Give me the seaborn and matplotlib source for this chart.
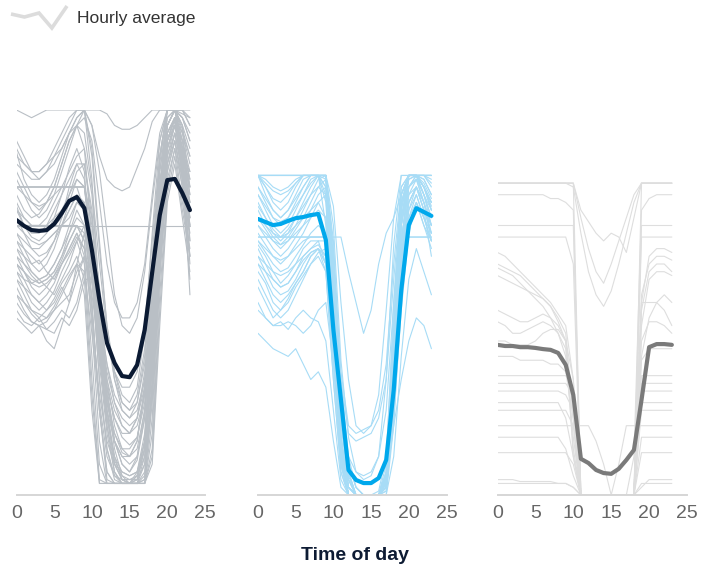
import numpy as np
import pandas as pd
import matplotlib
matplotlib.use("Agg")
import matplotlib.pyplot as plt
from matplotlib.lines import Line2D
from matplotlib.legend_handler import HandlerBase
import seaborn as sns

# ---------------- data ----------------
hours = list(range(24))
tick_values = [0, 5, 10, 15, 20, 25]
x_label = "Time of day"
legend_label = "Hourly average"

avg_panel1 = [71.4, 69.9, 68.8, 68.6, 68.8, 70.4, 73.2, 76.4, 77.4, 74.5, 63.6, 50.6,
              39.5, 34.3, 30.9, 30.6, 33.8, 42.9, 57.9, 72.7, 81.8, 82.1, 78.4, 74.0]
avg_panel2 = [71.7, 70.9, 70.1, 70.4, 71.2, 71.9, 72.2, 72.7, 73.0, 66.2, 42.9, 24.7,
              6.5, 3.9, 3.1, 3.1, 4.4, 9.1, 27.3, 53.2, 70.1, 74.5, 73.5, 72.5]
avg_panel3 = [39.0, 38.7, 38.7, 38.4, 38.4, 38.2, 37.9, 37.7, 36.9, 33.8, 26.0, 9.4,
              8.3, 6.5, 5.7, 5.5, 6.8, 9.1, 11.7, 24.7, 38.4, 39.2, 39.2, 39.0]

lines_panel1 = [
    [100, 99, 98, 99, 100, 100, 100, 100, 100, 100, 100, 100, 99, 96, 95, 95, 96, 98, 100, 100, 100, 100, 100, 100],
    [89, 82, 78, 76, 78, 82, 88, 94, 98, 100, 96, 88, 82, 80, 79, 80, 85, 90, 97, 100, 100, 100, 99, 98],
    [80, 80, 80, 80, 80, 80, 80, 80, 80, 80, 62, 36, 18, 8, 4, 3, 6, 16, 44, 80, 96, 100, 96, 90],
    [80, 80, 80, 80, 80, 80, 80, 80, 80, 74, 50, 22, 6, 3, 3, 3, 3, 8, 34, 72, 92, 98, 94, 86],
    [78, 74, 72, 73, 76, 80, 86, 92, 96, 90, 66, 40, 24, 16, 11, 10, 14, 28, 56, 84, 98, 100, 100, 98],
    [75, 70, 67, 66, 68, 72, 78, 85, 90, 84, 58, 30, 12, 5, 3, 3, 4, 12, 38, 70, 90, 97, 92, 84],
    [70, 70, 70, 70, 70, 70, 70, 70, 70, 70, 70, 70, 70, 70, 70, 70, 70, 70, 70, 70, 70, 70, 70, 70],
    [72, 68, 64, 62, 63, 66, 72, 80, 86, 82, 62, 40, 24, 14, 8, 6, 10, 22, 50, 80, 96, 100, 92, 82],
    [68, 64, 60, 58, 60, 64, 70, 76, 82, 80, 64, 42, 26, 16, 12, 12, 15, 26, 50, 78, 94, 98, 90, 80],
    [66, 62, 58, 56, 57, 60, 64, 70, 76, 74, 58, 34, 16, 6, 3, 3, 3, 10, 36, 70, 90, 96, 86, 76],
    [64, 60, 57, 55, 56, 58, 62, 68, 74, 70, 50, 22, 4, 3, 3, 3, 3, 4, 26, 64, 88, 94, 84, 72],
    [62, 58, 54, 52, 54, 57, 61, 66, 70, 66, 44, 14, 3, 3, 3, 3, 3, 3, 20, 60, 86, 92, 82, 70],
    [60, 56, 52, 50, 52, 55, 60, 64, 68, 62, 36, 8, 3, 3, 3, 3, 3, 3, 16, 56, 84, 92, 80, 68],
    [58, 54, 50, 48, 50, 53, 58, 62, 66, 60, 30, 4, 3, 3, 3, 3, 3, 3, 12, 52, 80, 90, 76, 64],
    [56, 52, 48, 46, 48, 51, 55, 58, 62, 56, 26, 3, 3, 3, 3, 3, 3, 3, 10, 48, 78, 88, 74, 62],
    [54, 50, 47, 45, 46, 49, 53, 57, 60, 52, 22, 3, 3, 3, 3, 3, 3, 3, 8, 44, 76, 86, 72, 58],
    [52, 48, 45, 44, 45, 48, 50, 52, 58, 62, 55, 40, 28, 20, 16, 16, 20, 32, 54, 78, 94, 98, 86, 70],
    [50, 47, 45, 44, 43, 45, 48, 46, 50, 58, 60, 52, 42, 32, 24, 22, 26, 38, 60, 84, 98, 100, 90, 74],
    [48, 45, 44, 46, 43, 42, 46, 44, 48, 56, 56, 46, 34, 24, 18, 16, 20, 30, 52, 80, 96, 100, 88, 72],
    [46, 44, 42, 44, 40, 38, 44, 50, 60, 68, 60, 38, 20, 10, 6, 5, 6, 14, 40, 72, 92, 98, 82, 62],
    [86, 84, 82, 82, 84, 86, 90, 94, 98, 100, 96, 84, 68, 52, 44, 42, 46, 58, 76, 92, 100, 100, 98, 94],
    [92, 88, 84, 82, 84, 88, 92, 96, 100, 100, 88, 64, 44, 32, 26, 24, 28, 42, 68, 92, 100, 100, 100, 96],
    [82, 78, 74, 72, 74, 78, 84, 90, 96, 100, 90, 66, 44, 30, 22, 20, 24, 36, 62, 88, 100, 100, 98, 92],
    [80, 78, 76, 75, 76, 78, 80, 80, 80, 80, 72, 50, 30, 18, 12, 10, 14, 28, 58, 88, 100, 100, 95, 88],
    [76, 72, 70, 70, 72, 76, 80, 84, 88, 90, 78, 52, 28, 14, 8, 6, 9, 20, 48, 80, 96, 100, 94, 88],
    [74, 70, 68, 68, 70, 74, 78, 82, 86, 86, 72, 46, 22, 10, 4, 3, 5, 14, 42, 76, 94, 98, 90, 82],
    [70, 70, 70, 70, 70, 70, 70, 70, 70, 68, 56, 36, 22, 14, 10, 10, 12, 22, 46, 76, 92, 96, 88, 84],
    [70, 70, 70, 70, 70, 70, 72, 78, 84, 86, 74, 48, 26, 12, 5, 3, 4, 12, 36, 70, 90, 96, 88, 80],
    [66, 64, 62, 60, 62, 66, 70, 74, 78, 74, 56, 30, 12, 4, 3, 3, 3, 5, 28, 62, 86, 94, 84, 76],
    [60, 58, 56, 55, 56, 58, 62, 66, 70, 66, 48, 22, 6, 3, 3, 3, 3, 4, 24, 58, 84, 92, 82, 72],
    [80, 80, 80, 80, 80, 80, 80, 80, 80, 80, 70, 54, 40, 32, 28, 28, 32, 44, 66, 88, 100, 100, 96, 80],
    [84, 80, 76, 74, 76, 80, 86, 92, 96, 98, 92, 76, 60, 50, 46, 46, 50, 60, 78, 94, 100, 100, 96, 66],
    [62, 60, 58, 56, 57, 60, 64, 68, 72, 70, 58, 38, 18, 6, 3, 3, 3, 6, 30, 66, 88, 96, 86, 52],
    [90, 86, 84, 84, 86, 90, 94, 98, 100, 100, 82, 50, 22, 8, 4, 3, 5, 14, 44, 80, 100, 100, 100, 96],
    [58, 56, 55, 56, 54, 52, 56, 60, 66, 70, 64, 44, 26, 14, 10, 8, 10, 20, 44, 74, 92, 98, 86, 60],
    [64, 62, 60, 61, 58, 56, 60, 64, 68, 64, 52, 38, 28, 20, 15, 13, 15, 24, 46, 74, 92, 98, 88, 70],
    [56, 54, 52, 50, 48, 50, 54, 50, 56, 62, 58, 44, 32, 24, 20, 18, 20, 28, 48, 76, 94, 98, 84, 62],
    [74, 72, 70, 70, 70, 72, 74, 78, 82, 80, 66, 48, 34, 26, 22, 20, 22, 30, 52, 80, 96, 100, 92, 78],
    [68, 66, 64, 64, 66, 68, 70, 74, 78, 76, 60, 42, 30, 22, 18, 16, 18, 26, 46, 74, 92, 98, 90, 76],
    [88, 86, 84, 84, 86, 88, 90, 94, 96, 94, 80, 60, 42, 30, 24, 22, 24, 34, 58, 86, 100, 100, 98, 92],
    [60, 58, 55, 54, 55, 57, 60, 63, 67, 64, 46, 26, 14, 8, 6, 5, 6, 12, 32, 62, 86, 94, 84, 66],
    [52, 50, 48, 47, 46, 48, 52, 56, 60, 58, 42, 24, 10, 5, 4, 4, 4, 8, 28, 58, 82, 90, 80, 56],
    [70, 68, 66, 65, 66, 68, 70, 72, 76, 76, 62, 40, 20, 9, 5, 4, 5, 10, 34, 68, 90, 96, 90, 78],
]

lines_panel2 = [
    [83, 83, 83, 83, 83, 83, 83, 83, 83, 83, 60, 25, 5, 0, 0, 0, 0, 5, 40, 75, 83, 83, 83, 83],
    [83, 83, 83, 83, 83, 83, 83, 83, 83, 70, 40, 10, 0, 0, 0, 0, 0, 2, 25, 65, 83, 83, 83, 83],
    [83, 80, 76, 74, 76, 80, 83, 83, 83, 83, 50, 15, 2, 0, 0, 0, 0, 8, 50, 80, 83, 83, 83, 83],
    [83, 78, 74, 72, 74, 78, 82, 83, 83, 80, 45, 12, 0, 0, 0, 0, 0, 4, 35, 72, 83, 83, 83, 80],
    [80, 76, 72, 70, 72, 76, 80, 83, 83, 78, 40, 8, 0, 0, 0, 0, 0, 3, 30, 70, 83, 83, 82, 78],
    [78, 74, 70, 68, 70, 74, 78, 82, 83, 83, 62, 30, 10, 2, 0, 0, 1, 10, 45, 78, 83, 83, 80, 76],
    [76, 72, 68, 66, 68, 72, 76, 80, 83, 83, 55, 20, 4, 0, 0, 0, 0, 6, 42, 76, 83, 83, 78, 74],
    [74, 70, 67, 65, 67, 70, 74, 78, 82, 83, 58, 22, 6, 0, 0, 0, 0, 5, 38, 74, 83, 83, 80, 76],
    [67, 67, 67, 67, 67, 67, 67, 67, 67, 67, 50, 20, 4, 0, 0, 0, 0, 4, 36, 67, 67, 67, 67, 67],
    [67, 67, 67, 67, 67, 67, 67, 67, 67, 67, 67, 67, 58, 50, 42, 48, 60, 68, 72, 78, 83, 83, 80, 76],
    [65, 62, 58, 55, 57, 60, 64, 66, 66, 60, 35, 10, 0, 0, 0, 0, 0, 3, 30, 62, 76, 80, 74, 70],
    [64, 60, 56, 54, 55, 58, 62, 64, 65, 62, 40, 12, 0, 0, 0, 0, 0, 2, 28, 60, 74, 78, 72, 68],
    [62, 58, 54, 52, 53, 56, 60, 63, 64, 60, 36, 8, 0, 0, 0, 0, 0, 2, 26, 58, 72, 76, 70, 66],
    [60, 56, 52, 50, 52, 55, 58, 62, 64, 62, 42, 14, 2, 0, 0, 0, 0, 4, 32, 62, 76, 80, 74, 68],
    [58, 55, 50, 48, 50, 54, 57, 60, 63, 64, 50, 22, 6, 0, 0, 0, 0, 6, 40, 70, 80, 82, 76, 70],
    [56, 52, 48, 46, 48, 52, 56, 60, 62, 58, 30, 6, 0, 0, 0, 0, 0, 1, 22, 55, 72, 78, 72, 66],
    [54, 50, 46, 48, 51, 55, 58, 62, 64, 60, 38, 12, 2, 0, 0, 0, 0, 3, 34, 66, 80, 83, 78, 72],
    [50, 46, 44, 45, 43, 46, 48, 46, 45, 40, 22, 4, 0, 0, 0, 0, 0, 0, 18, 52, 70, 76, 70, 64],
    [42, 40, 38, 37, 36, 38, 34, 30, 32, 28, 14, 2, 0, 0, 0, 0, 0, 0, 10, 36, 56, 64, 58, 52],
    [83, 83, 83, 83, 83, 83, 83, 83, 83, 83, 75, 50, 30, 18, 16, 18, 26, 48, 72, 83, 83, 83, 83, 83],
    [83, 82, 80, 79, 80, 82, 83, 83, 83, 83, 70, 35, 15, 6, 4, 5, 10, 30, 65, 83, 83, 83, 83, 82],
    [72, 69, 66, 64, 66, 69, 72, 76, 80, 82, 52, 18, 4, 0, 0, 0, 0, 4, 34, 70, 82, 83, 80, 74],
    [70, 67, 64, 62, 64, 67, 70, 74, 78, 80, 48, 14, 2, 0, 0, 0, 0, 3, 30, 66, 80, 83, 78, 72],
    [68, 65, 62, 60, 62, 65, 68, 72, 76, 78, 44, 12, 0, 0, 0, 0, 0, 2, 26, 62, 78, 82, 78, 70],
    [66, 64, 62, 61, 62, 64, 66, 67, 67, 67, 40, 8, 0, 0, 0, 0, 0, 2, 24, 58, 67, 67, 67, 67],
    [83, 80, 77, 76, 78, 81, 83, 83, 83, 83, 66, 30, 8, 2, 0, 0, 0, 4, 18, 30, 40, 46, 44, 38],
    [62, 60, 58, 57, 58, 60, 62, 64, 66, 66, 50, 24, 10, 6, 5, 6, 10, 22, 50, 72, 82, 83, 80, 74],
    [80, 77, 74, 72, 74, 77, 80, 83, 83, 82, 60, 32, 18, 16, 17, 18, 22, 34, 60, 80, 83, 83, 82, 78],
    [75, 72, 69, 67, 69, 72, 75, 78, 80, 78, 58, 30, 16, 14, 15, 16, 20, 30, 56, 78, 83, 83, 80, 75],
    [72, 70, 68, 67, 68, 70, 72, 74, 76, 72, 50, 22, 8, 2, 0, 0, 0, 2, 20, 48, 68, 76, 72, 66],
    [83, 83, 83, 83, 83, 83, 83, 83, 83, 76, 42, 10, 0, 0, 0, 0, 0, 2, 30, 70, 83, 83, 83, 83],
    [83, 81, 79, 78, 79, 81, 83, 83, 83, 80, 48, 14, 2, 0, 0, 0, 0, 3, 36, 74, 83, 83, 83, 81],
    [78, 75, 72, 71, 72, 75, 78, 81, 83, 83, 52, 16, 2, 0, 0, 0, 0, 4, 40, 76, 83, 83, 81, 77],
    [70, 68, 66, 65, 66, 68, 70, 72, 74, 72, 40, 10, 0, 0, 0, 0, 0, 2, 28, 64, 78, 80, 76, 70],
    [66, 63, 60, 58, 59, 62, 65, 68, 70, 68, 44, 14, 2, 0, 0, 0, 0, 3, 32, 66, 80, 82, 76, 68],
    [48, 46, 44, 44, 45, 44, 42, 44, 48, 50, 34, 10, 0, 0, 0, 0, 0, 2, 26, 60, 76, 80, 74, 62],
    [83, 83, 83, 83, 83, 83, 83, 83, 83, 83, 64, 26, 6, 0, 0, 0, 0, 6, 44, 78, 83, 83, 83, 83],
    [60, 58, 56, 54, 55, 58, 61, 63, 64, 58, 30, 6, 0, 0, 0, 0, 0, 1, 20, 56, 74, 80, 76, 66],
]

lines_panel3 = [
    [81, 81, 81, 81, 81, 81, 81, 81, 81, 81, 81, 72, 64, 58, 55, 60, 66, 72, 78, 81, 81, 81, 81, 81],
    [81, 81, 81, 81, 81, 81, 81, 81, 81, 81, 80, 68, 58, 52, 49, 53, 60, 68, 76, 81, 81, 81, 81, 81],
    [81, 81, 81, 81, 81, 81, 81, 81, 81, 81, 81, 74, 71, 68, 66, 68, 67, 63, 72, 81, 81, 81, 81, 81],
    [81, 81, 81, 81, 81, 81, 81, 81, 81, 81, 81, 0, 0, 0, 0, 0, 0, 0, 0, 81, 81, 81, 81, 81],
    [78, 78, 78, 78, 78, 78, 78, 77, 77, 76, 74, 0, 0, 0, 0, 0, 0, 0, 10, 74, 77, 78, 78, 78],
    [70, 70, 70, 70, 70, 70, 70, 70, 70, 70, 70, 0, 0, 0, 0, 0, 0, 0, 0, 70, 70, 70, 70, 70],
    [67, 67, 67, 67, 67, 67, 67, 67, 67, 67, 60, 0, 0, 0, 0, 0, 0, 0, 0, 67, 67, 67, 67, 67],
    [60, 59, 58, 57, 55, 53, 51, 49, 46, 42, 20, 0, 0, 0, 0, 0, 0, 0, 0, 52, 60, 62, 62, 61],
    [59, 58, 57, 55, 53, 51, 49, 46, 42, 36, 15, 0, 0, 0, 0, 0, 0, 0, 0, 48, 58, 60, 60, 58],
    [57, 56, 55, 54, 53, 52, 51, 49, 45, 40, 10, 0, 0, 0, 0, 0, 0, 0, 0, 44, 56, 58, 58, 57],
    [45, 44, 42, 42, 43, 44, 45, 44, 42, 38, 12, 0, 0, 0, 0, 0, 0, 0, 0, 50, 50, 50, 48, 44],
    [40, 40, 39, 39, 39, 40, 42, 43, 43, 40, 30, 0, 0, 0, 0, 0, 0, 0, 0, 40, 45, 45, 44, 42],
    [36, 36, 36, 35, 35, 35, 35, 34, 34, 32, 20, 0, 0, 0, 0, 0, 0, 0, 0, 35, 38, 38, 38, 38],
    [31, 31, 31, 31, 31, 31, 31, 31, 31, 31, 28, 0, 0, 0, 0, 0, 0, 0, 0, 31, 31, 31, 31, 31],
    [29, 29, 29, 29, 29, 29, 29, 29, 29, 29, 26, 0, 0, 0, 0, 0, 0, 0, 0, 29, 29, 29, 29, 29],
    [27, 27, 27, 27, 27, 27, 27, 27, 27, 26, 22, 0, 0, 0, 0, 0, 0, 0, 0, 27, 27, 27, 27, 27],
    [24, 24, 24, 24, 24, 24, 24, 24, 24, 20, 10, 0, 0, 0, 0, 0, 0, 0, 0, 24, 24, 24, 24, 24],
    [22, 22, 22, 22, 22, 22, 22, 22, 22, 22, 18, 0, 0, 0, 0, 0, 0, 0, 0, 22, 22, 22, 22, 22],
    [18, 18, 18, 18, 18, 18, 18, 18, 18, 18, 18, 18, 18, 14, 8, 0, 8, 18, 18, 18, 18, 18, 18, 18],
    [15, 15, 15, 15, 15, 15, 15, 15, 15, 12, 5, 0, 0, 0, 0, 0, 0, 0, 0, 15, 15, 15, 15, 15],
    [11, 11, 11, 11, 11, 11, 11, 11, 11, 11, 8, 0, 0, 0, 0, 0, 0, 0, 0, 11, 11, 11, 11, 11],
    [3, 3, 3, 3, 3, 3, 3, 3, 3, 3, 2, 0, 0, 0, 0, 0, 0, 0, 0, 3, 3, 3, 3, 3],
    [4, 4, 4, 3.5, 3.5, 3.5, 3.5, 3.5, 3, 3, 2, 0, 0, 0, 0, 0, 0, 0, 0, 2, 4, 4, 4, 4],
    [48, 47, 46, 45, 45, 46, 47, 46, 44, 40, 20, 0, 0, 0, 0, 0, 0, 0, 0, 36, 46, 50, 52, 50],
    [63, 62, 60, 58, 56, 54, 52, 50, 47, 44, 30, 0, 0, 0, 0, 0, 0, 0, 0, 50, 62, 64, 64, 63],
]

# ---------------- styling ----------------
thin_colors = ["#b9bfc5", "#a7dcf6", "#dedede"]
avg_colors = ["#0b1a33", "#00a8ec", "#7a7a7a"]

sns.set_theme(style="white")
plt.rcParams["font.family"] = ["Liberation Sans", "DejaVu Sans"]

W, H = 715, 566
fig = plt.figure(figsize=(W / 100, H / 100), dpi=100)

# axes placements in pixels: (x of hour 0, x of hour 25)
panel_px = [(16.5, 205.0), (258.0, 446.5), (497.5, 687.0)]
y_bottom_px, y_top_px = 495.0, 110.0


def to_long(lines):
    rows = []
    for i, ln in enumerate(lines):
        for h, v in zip(hours, ln):
            rows.append({"hour": h, "value": v, "line": i})
    return pd.DataFrame(rows)


panels = [lines_panel1, lines_panel2, lines_panel3]
avgs = [avg_panel1, avg_panel2, avg_panel3]

for k in range(3):
    x0, x1 = panel_px[k]
    ax = fig.add_axes([x0 / W, 1 - y_bottom_px / H, (x1 - x0) / W, (y_bottom_px - y_top_px) / H])
    df = to_long(panels[k])
    sns.lineplot(data=df, x="hour", y="value", units="line", estimator=None,
                 color=thin_colors[k], linewidth=0.8, ax=ax, legend=False)
    dfa = pd.DataFrame({"hour": hours, "value": avgs[k]})
    sns.lineplot(data=dfa, x="hour", y="value", color=avg_colors[k],
                 linewidth=3.0, ax=ax, legend=False)
    ax.set_xlim(0, 25)
    ax.set_ylim(0, 100)
    ax.set_xticks(tick_values)
    ax.set_xticklabels([str(t) for t in tick_values])
    ax.set_yticks([])
    ax.set_xlabel("")
    ax.set_ylabel("")
    for s in ["left", "right", "top"]:
        ax.spines[s].set_visible(False)
    ax.spines["bottom"].set_color("#d6d6d6")
    ax.spines["bottom"].set_linewidth(1.4)
    ax.tick_params(axis="x", length=0, pad=7, labelsize=14, labelcolor="#666666")
    ax.set_facecolor("none")

fig.text(355 / W, 1 - 555 / H, x_label, ha="center", va="center",
         fontsize=14, fontweight="bold", color="#0d1b33")


class ZigZagHandler(HandlerBase):
    def create_artists(self, legend, orig_handle, xdescent, ydescent,
                       width, height, fontsize, trans):
        fx = np.array([0.0, 0.24, 0.5, 0.73, 1.0])
        dy = np.array([3.0, 0.0, 4.0, -11.0, 11.0]) * 0.72
        xs = -xdescent + fx * width
        ys = -ydescent + height / 2 + dy
        ln = Line2D(xs, ys, color="#dcdcdc", lw=2.6, transform=trans,
                    solid_joinstyle="miter", solid_capstyle="butt")
        return [ln]


handle = Line2D([], [])
fig.legend(handles=[handle], labels=[legend_label],
           handler_map={Line2D: ZigZagHandler()},
           loc="center left", bbox_to_anchor=(11 / W, 1 - 18.5 / H),
           frameon=False, fontsize=12.6, handlelength=3.2, handletextpad=0.58,
           borderpad=0, borderaxespad=0, labelcolor="#333333")

fig.savefig("out.png", dpi=100)
